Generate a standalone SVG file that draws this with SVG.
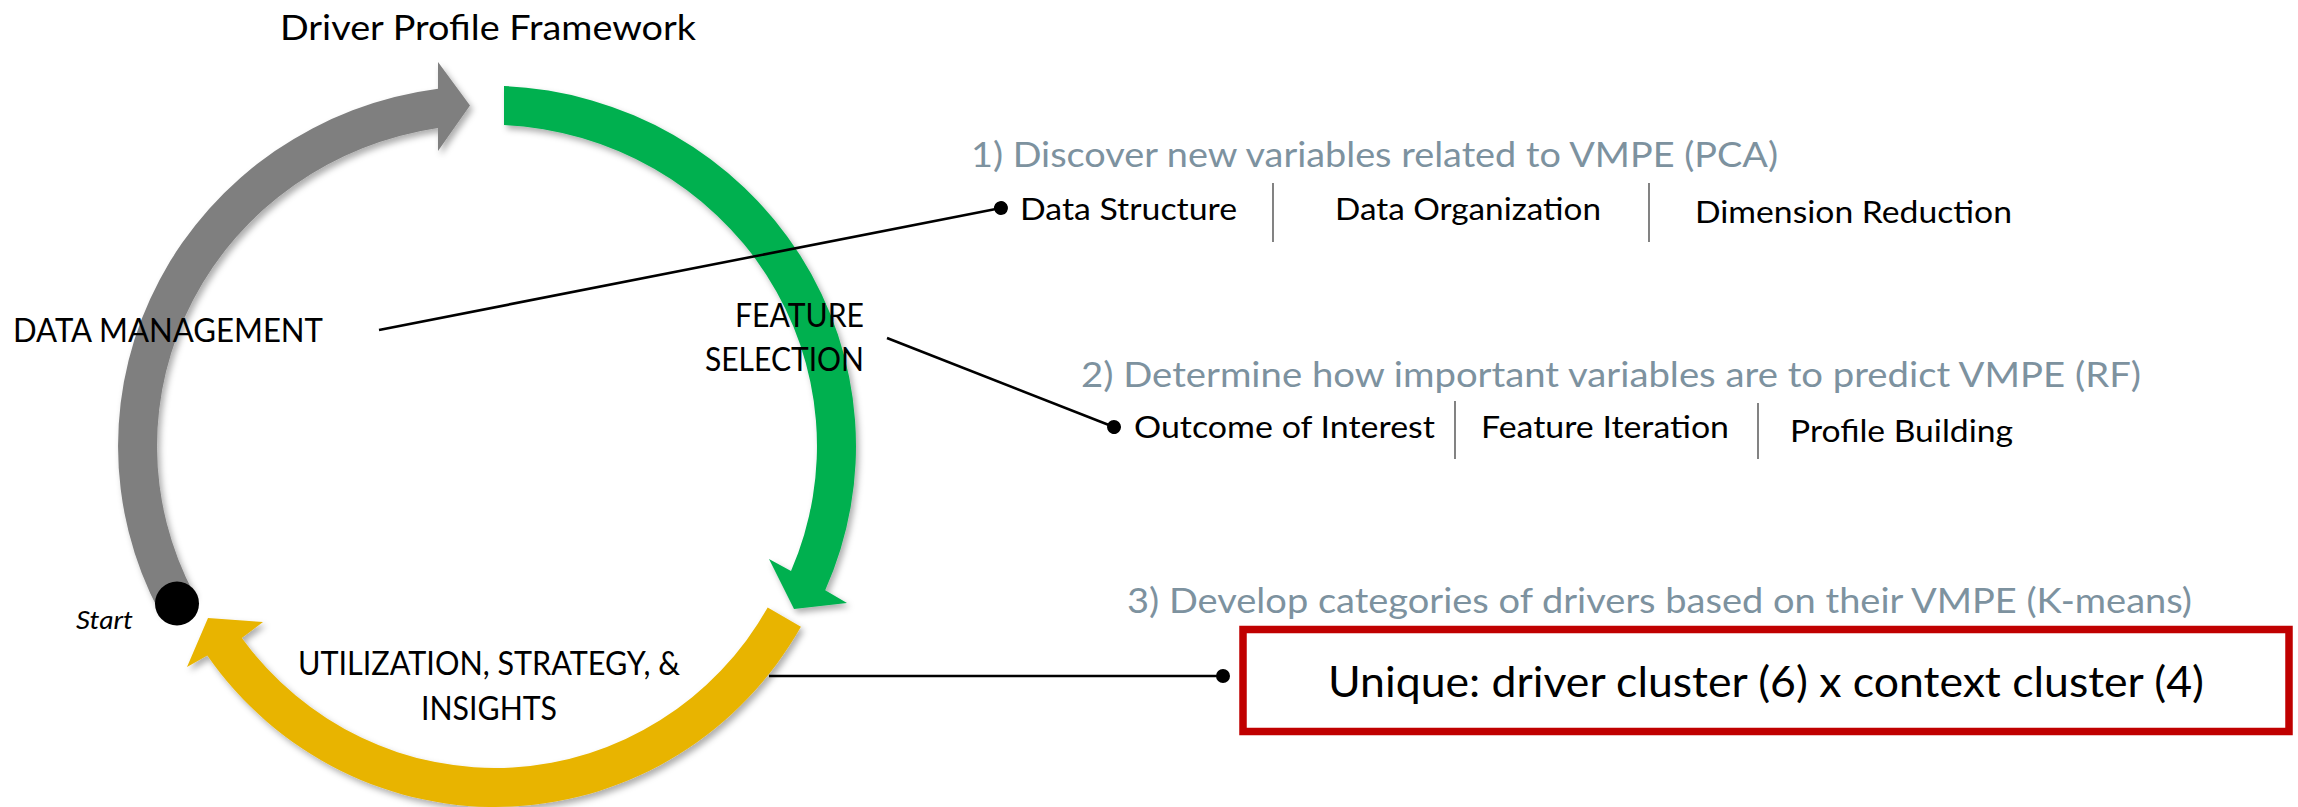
<svg xmlns="http://www.w3.org/2000/svg" width="2298" height="807" viewBox="0 0 2298 807">
  <style>
    .t { font-family: Lato, "Liberation Sans", sans-serif; fill: #000; }
    .lbl { font-size: 32px; }
    .head { font-size: 35px; fill: #7D929F; }
    .item { font-size: 30px; }
    .sep { stroke: #404040; stroke-width: 1.3; }
    .conn { stroke: #000; stroke-width: 2.6; fill: none; }
  </style>
  <defs>
    <filter id="shade" x="-10%" y="-10%" width="125%" height="125%">
      <feDropShadow dx="3" dy="4" stdDeviation="3" flood-color="#000" flood-opacity="0.32"/>
    </filter>
    <marker id="dot" markerUnits="userSpaceOnUse" markerWidth="18" markerHeight="18" refX="9" refY="9" orient="auto">
      <circle cx="9" cy="9" r="7" fill="#000"/>
    </marker>
  </defs>

  <rect width="2298" height="807" fill="#fff"/>

  <!-- Cycle arrows -->
  <g id="arrow-data" filter="url(#shade)">
    <path d="M 159.7,612.4 A 369 360.5 0 0 1 438,88.7 L 438,62 L 470,105.5 L 438,151 L 438,128.1 A 330 321.5 0 0 0 194.3,594.4 Z" fill="#7F7F7F"/>
  </g>
  <g id="arrow-feature" filter="url(#shade)">
    <path d="M 504,85.9 A 369 360.5 0 0 1 825.2,590.2 L 847,603 L 794,609 L 769,559 L 791,571 A 330 321.5 0 0 0 504,124.9 Z" fill="#00B050"/>
  </g>
  <g id="arrow-utilization" filter="url(#shade)">
    <path d="M 800.9,626.7 A 353 360 0 0 1 207.3,655.5 L 187,667 L 208,618 L 263,622 L 241.8,637.9 A 315 321 0 0 0 767.7,607.6 Z" fill="#E8B400"/>
  </g>
  <g id="start">
    <circle cx="177" cy="603.5" r="22" fill="#000"/>
    <text class="t" x="76" y="629" font-size="25" font-style="italic" textLength="57" lengthAdjust="spacingAndGlyphs">Start</text>
  </g>

  <!-- Title -->
  <g id="title">
    <text class="t" x="280" y="40" font-size="35" textLength="416" lengthAdjust="spacingAndGlyphs">Driver Profile Framework</text>
  </g>

  <!-- Connectors -->
  <g id="connectors">
    <line class="conn" x1="379" y1="330" x2="1001" y2="208" marker-end="url(#dot)"/>
    <line class="conn" x1="887" y1="338" x2="1114" y2="427" marker-end="url(#dot)"/>
    <line class="conn" x1="769" y1="676" x2="1223" y2="676" marker-end="url(#dot)"/>
  </g>

  <!-- Stage labels -->
  <g id="label-data">
    <text class="t lbl" x="13" y="342" textLength="310" lengthAdjust="spacingAndGlyphs">DATA MANAGEMENT</text>
  </g>
  <g id="label-feature">
    <text class="t lbl" x="735" y="327" textLength="129" lengthAdjust="spacingAndGlyphs">FEATURE</text>
    <text class="t lbl" x="705" y="371" textLength="159" lengthAdjust="spacingAndGlyphs">SELECTION</text>
  </g>
  <g id="label-utilization">
    <text class="t lbl" x="298" y="675" textLength="382" lengthAdjust="spacingAndGlyphs">UTILIZATION, STRATEGY, &amp;</text>
    <text class="t lbl" x="421" y="720" textLength="136" lengthAdjust="spacingAndGlyphs">INSIGHTS</text>
  </g>

  <!-- Step 1 -->
  <g id="step-1">
    <text class="t head" x="971" y="167" textLength="807" lengthAdjust="spacingAndGlyphs">1) Discover new variables related to VMPE (PCA)</text>
    <text class="t item" x="1020" y="220" textLength="217" lengthAdjust="spacingAndGlyphs">Data Structure</text>
    <line class="sep" x1="1273" y1="183" x2="1273" y2="242"/>
    <text class="t item" x="1335" y="220" textLength="266" lengthAdjust="spacingAndGlyphs">Data Organization</text>
    <line class="sep" x1="1649" y1="183" x2="1649" y2="242"/>
    <text class="t item" x="1695" y="223" textLength="317" lengthAdjust="spacingAndGlyphs">Dimension Reduction</text>
  </g>

  <!-- Step 2 -->
  <g id="step-2">
    <text class="t head" x="1081" y="387" textLength="1060" lengthAdjust="spacingAndGlyphs">2) Determine how important variables are to predict VMPE (RF)</text>
    <text class="t item" x="1134" y="438" textLength="301" lengthAdjust="spacingAndGlyphs">Outcome of Interest</text>
    <line class="sep" x1="1455" y1="401" x2="1455" y2="459"/>
    <text class="t item" x="1481" y="438" textLength="248" lengthAdjust="spacingAndGlyphs">Feature Iteration</text>
    <line class="sep" x1="1758" y1="403" x2="1758" y2="459"/>
    <text class="t item" x="1790" y="442" textLength="223" lengthAdjust="spacingAndGlyphs">Profile Building</text>
  </g>

  <!-- Step 3 -->
  <g id="step-3">
    <text class="t head" x="1127" y="613" textLength="1065" lengthAdjust="spacingAndGlyphs">3) Develop categories of drivers based on their VMPE (K-means)</text>
    <rect x="1243" y="629.5" width="1046" height="102" fill="#fff" stroke="#C00000" stroke-width="7.5"/>
    <text class="t" x="1328" y="697" font-size="42" textLength="876" lengthAdjust="spacingAndGlyphs">Unique: driver cluster (6) x context cluster (4)</text>
  </g>
</svg>
